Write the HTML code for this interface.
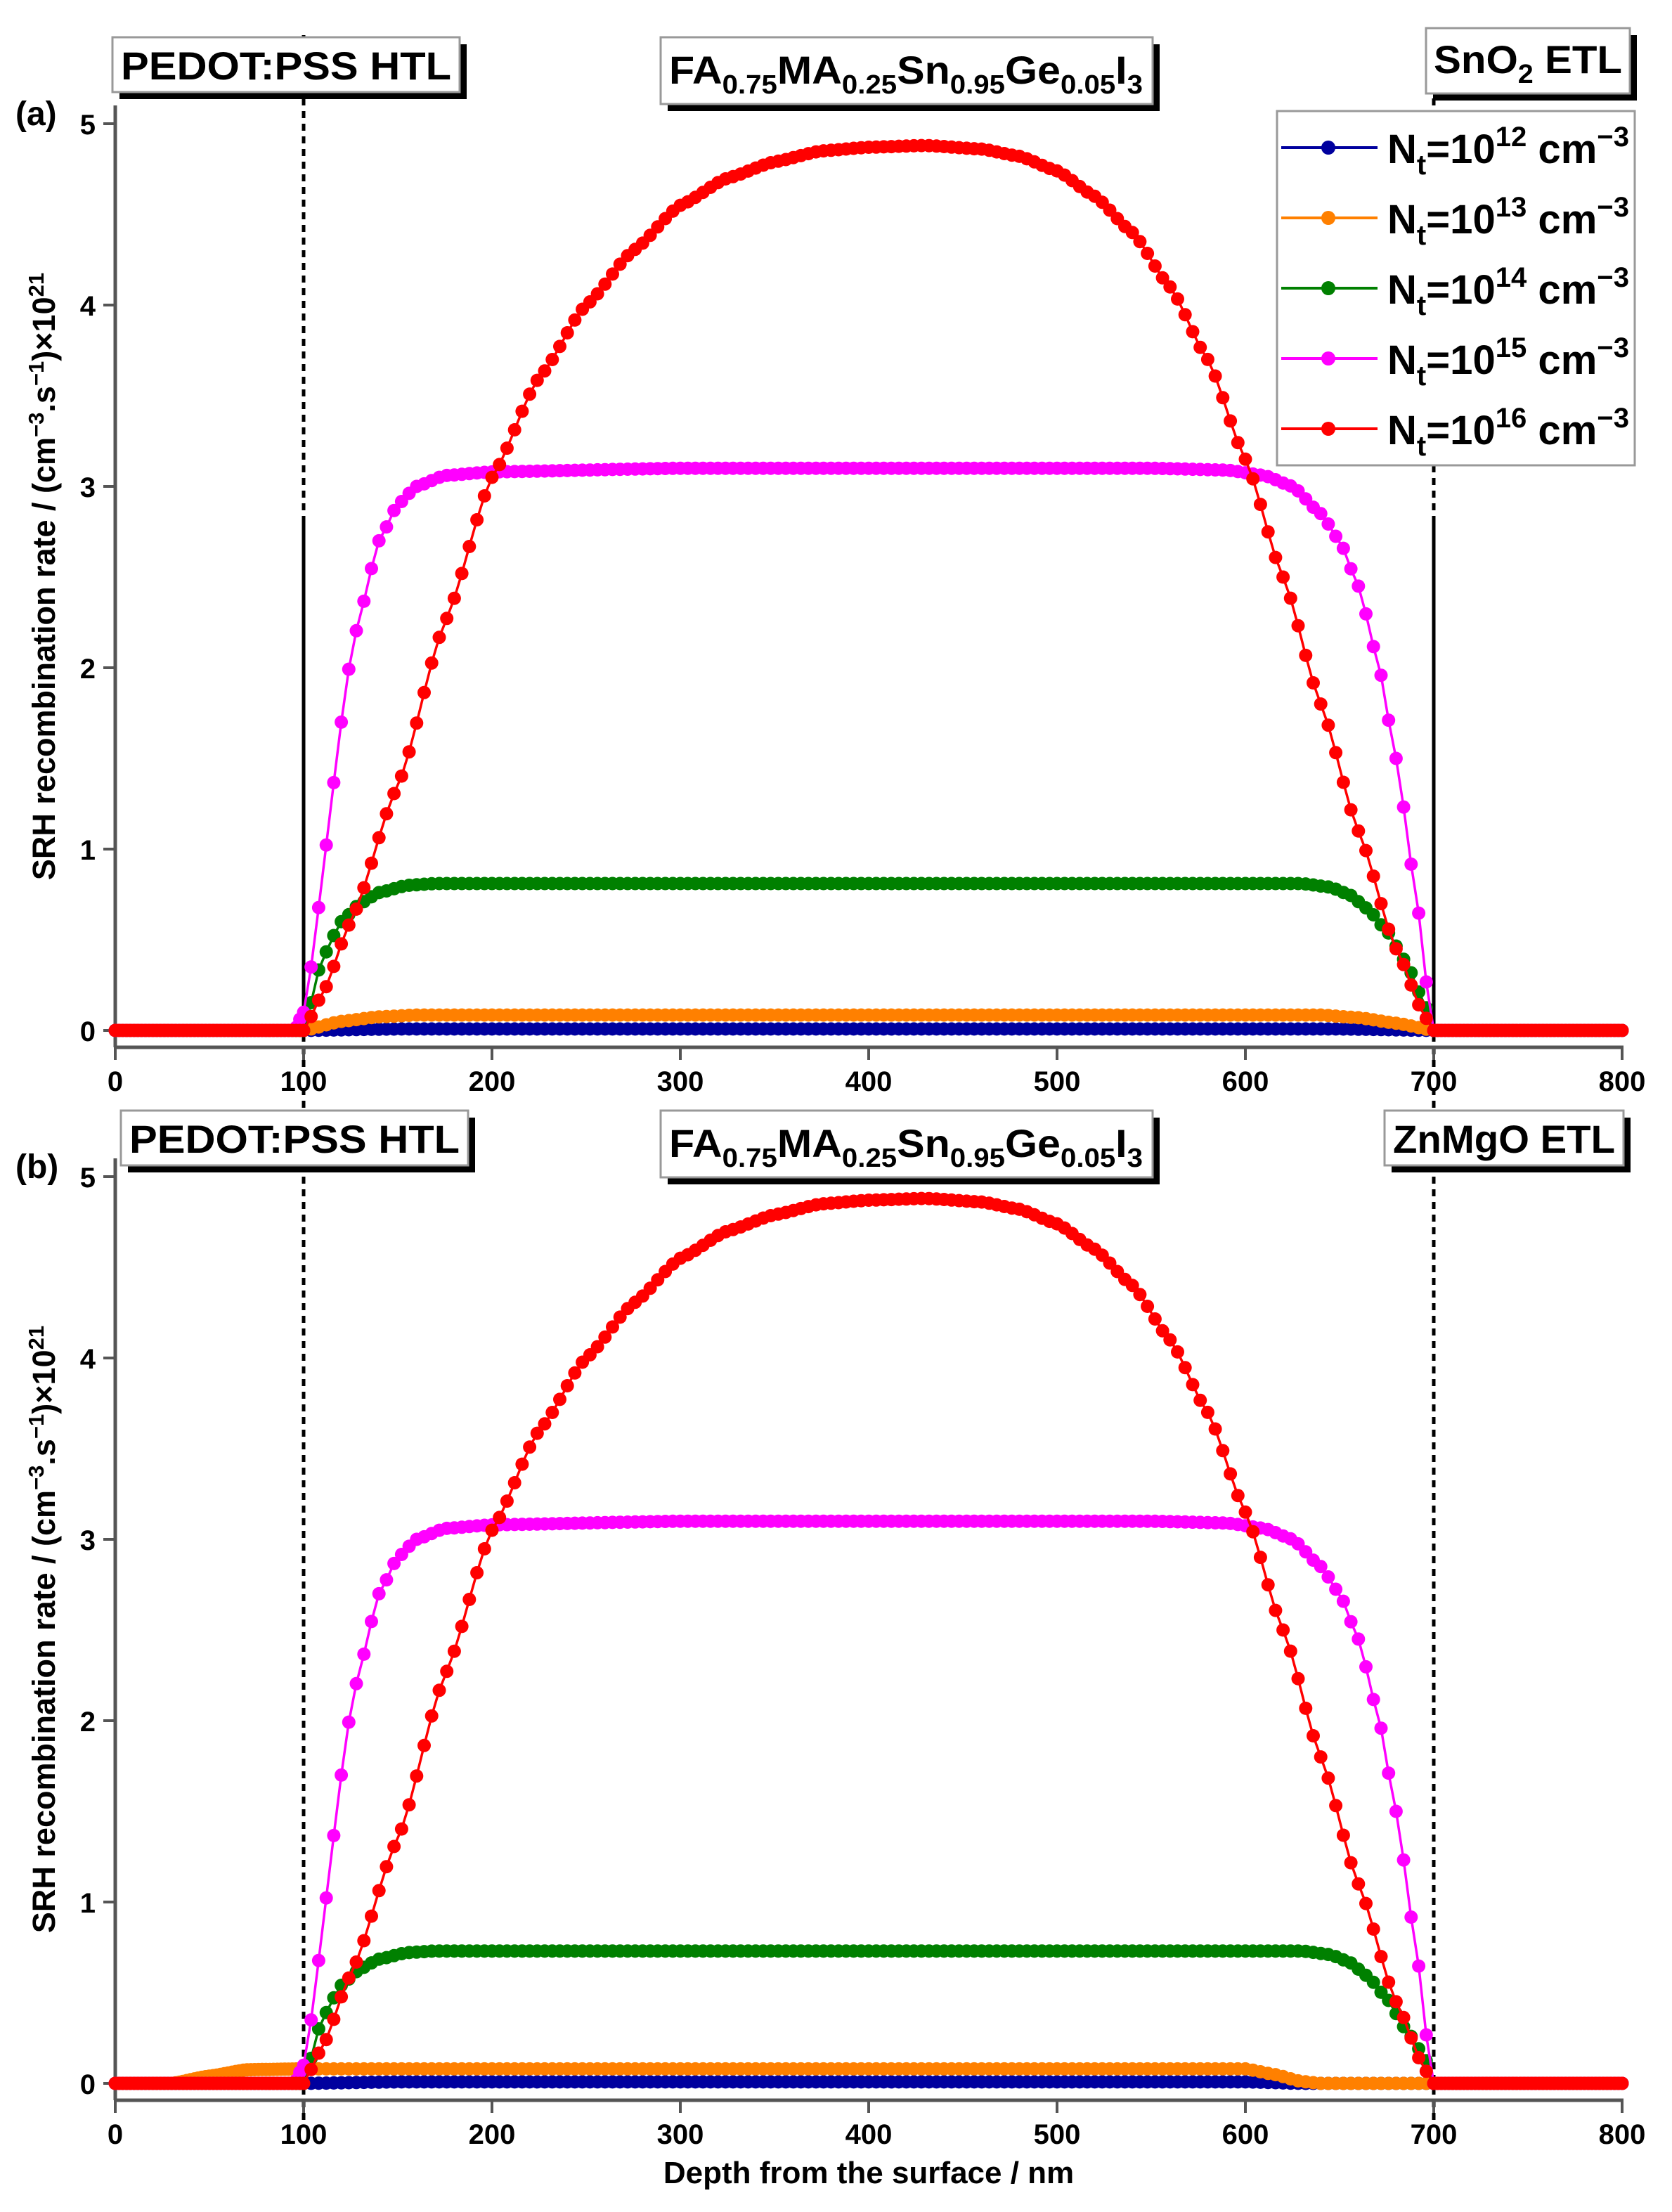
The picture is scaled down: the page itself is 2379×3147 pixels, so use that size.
<!DOCTYPE html>
<html><head><meta charset="utf-8"><style>
html,body{margin:0;padding:0;background:#fff;}
svg{display:block;font-family:"Liberation Sans",Arial,sans-serif;font-weight:bold;}
</style></head><body>
<svg id="s" width="2379" height="3147" viewBox="0 0 2379 3147" xmlns="http://www.w3.org/2000/svg">
</svg>
<script>
const S=document.getElementById('s');
let h='';
const X0=164, SX=2.68;
function X(v){return X0+v*SX;}
function interp(keys,x){
  for(let i=0;i<keys.length-1;i++){
    const a=keys[i],b=keys[i+1];
    if(x>=a[0]&&x<=b[0]){
      const t=(x-a[0])/(b[0]-a[0]||1);
      const s=t*t*(3-2*t)*0.35+t*0.65;
      return a[1]+(b[1]-a[1])*s;
    }
  }
  return 0;
}
const red=[[0,0],[100,0],[110,0.2],[125,0.6],[150,1.35],[175,2.25],[200,3.05],[225,3.6],[250,4.0],[275,4.3],[300,4.55],[325,4.7],[350,4.79],[375,4.85],[400,4.87],[430,4.88],[460,4.86],[480,4.82],[500,4.74],[520,4.6],[540,4.4],[560,4.1],[580,3.7],[600,3.15],[620,2.5],[640,1.8],[660,1.1],[680,0.45],[695,0.08],[700,0],[800,0]];
const mag=[[0,0],[95,0],[100,0.1],[105,0.4],[110,0.85],[115,1.3],[120,1.7],[125,2.05],[130,2.3],[140,2.7],[150,2.9],[160,3.0],[175,3.06],[200,3.08],[300,3.1],[550,3.1],[590,3.09],[610,3.06],[625,3.0],[640,2.85],[650,2.7],[660,2.45],[670,2.05],[680,1.5],[690,0.8],[697,0.2],[700,0],[800,0]];
function green(p){return [[0,0],[100,0],[110,0.4*p/0.81],[120,0.6*p/0.81],[130,0.7*p/0.81],[140,0.76*p/0.81],[155,0.8*p/0.81],[170,p],[630,p],[645,p-0.02],[655,p-0.06],[665,p-0.14],[675,p-0.26],[685,p-0.43],[695,0.15],[700,0],[800,0]];}
const orA=[[0,0],[100,0],[120,0.05],[140,0.075],[160,0.085],[640,0.085],[660,0.07],[680,0.04],[700,0],[800,0]];
const orB=[[0,0],[30,0],[50,0.04],[70,0.075],[100,0.08],[600,0.08],[615,0.05],[630,0.01],[640,0],[800,0]];
const blA=[[0,0],[100,0],[150,0.008],[650,0.008],[700,0],[800,0]];
const blB=[[0,0],[100,0],[150,0.008],[600,0.008],[630,0],[800,0]];
function series(keys,col,Y0,from,to){
  let pts=[];
  for(let x=from;x<=to+0.001;x+=(x<100||x>=700)?2:4){pts.push([X(x),Y0-interp(keys,x)*258]);}
  let d='M'+pts.map(p=>p[0].toFixed(1)+' '+p[1].toFixed(1)).join('L');
  h+=`<path d="${d}" fill="none" stroke="${col}" stroke-width="3.5"/>`;
  h+=pts.map(p=>`<circle cx="${p[0].toFixed(1)}" cy="${p[1].toFixed(1)}" r="9.5" fill="${col}"/>`).join('');
}
function box(x1,y1,x2,y2,inner){
  h+=`<rect x="${x1+10}" y="${y1+10}" width="${x2-x1}" height="${y2-y1}" fill="#000"/>`;
  h+=`<rect x="${x1}" y="${y1}" width="${x2-x1}" height="${y2-y1}" fill="#fff" stroke="#999" stroke-width="3"/>`;
  h+=inner;
}
function panel(Y0,b){
  const top=Y0-1316;
  h+=`<line x1="${X(100)}" y1="${top-100}" x2="${X(100)}" y2="${Y0+60}" stroke="#000" stroke-width="5" stroke-dasharray="10,8"/>`;
  h+=`<line x1="${X(700)}" y1="${top-100}" x2="${X(700)}" y2="${Y0+60}" stroke="#000" stroke-width="5" stroke-dasharray="10,8"/>`;
  if(!b){
    h+=`<line x1="${X(100)}" y1="${Y0+5}" x2="${X(100)}" y2="${Y0-2.82*258}" stroke="#000" stroke-width="5"/>`;
    h+=`<line x1="${X(700)}" y1="${Y0+5}" x2="${X(700)}" y2="${Y0-2.82*258}" stroke="#000" stroke-width="5"/>`;
  }
  h+=`<line x1="164" y1="${top}" x2="164" y2="${Y0+24}" stroke="#555" stroke-width="5"/>`;
  h+=`<line x1="162" y1="${Y0+24}" x2="2310" y2="${Y0+24}" stroke="#555" stroke-width="5"/>`;
  for(let i=0;i<=5;i++){const y=Y0-i*258;
    h+=`<line x1="147" y1="${y}" x2="164" y2="${y}" stroke="#555" stroke-width="4"/>`;
    h+=`<text x="136" y="${y+15}" font-size="40" text-anchor="end">${i}</text>`;}
  for(let i=0;i<=8;i++){const x=X(i*100);
    h+=`<line x1="${x}" y1="${Y0+24}" x2="${x}" y2="${Y0+42}" stroke="#555" stroke-width="4"/>`;
    h+=`<text x="${x}" y="${Y0+86}" font-size="40" text-anchor="middle">${i*100}</text>`;}
  series(b?blB:blA,'#00009e',Y0,0,800);
  series(b?orB:orA,'#ff8000',Y0,0,800);
  series(green(b?0.73:0.81),'#008000',Y0,0,800);
  series(mag,'#ff00ff',Y0,0,800);
  series(red,'#ff0000',Y0,0,800);
  const cy=Y0-646;
  h+=`<text transform="translate(78 ${cy}) rotate(-90)" font-size="45" text-anchor="middle">SRH recombination rate / (cm<tspan font-size="31" dy="-16">−3</tspan><tspan dy="16">.s</tspan><tspan font-size="31" dy="-16">−1</tspan><tspan dy="16">)×10</tspan><tspan font-size="31" dy="-16">21</tspan></text>`;
  h+=`<text x="22" y="${top+28}" font-size="48">${b?'(b)':'(a)'}</text>`;
  const by=b?1580:53;
  const bx=b?172:160;
  box(bx,by,bx+494,by+78,`<text x="${bx+12}" y="${by+60}" font-size="56" textLength="470" lengthAdjust="spacingAndGlyphs">PEDOT:PSS HTL</text>`);
  box(940,by,1640,by+95,`<text x="952" y="${by+66}" font-size="56" textLength="674" lengthAdjust="spacingAndGlyphs">FA<tspan font-size="38" dy="14">0.75</tspan><tspan dy="-14">MA</tspan><tspan font-size="38" dy="14">0.25</tspan><tspan dy="-14">Sn</tspan><tspan font-size="38" dy="14">0.95</tspan><tspan dy="-14">Ge</tspan><tspan font-size="38" dy="14">0.05</tspan><tspan dy="-14">I</tspan><tspan font-size="38" dy="14">3</tspan></text>`);
  if(!b){
    box(2029,40,2319,133,`<text x="2040" y="104" font-size="56" textLength="268" lengthAdjust="spacingAndGlyphs">SnO<tspan font-size="38" dy="14">2</tspan><tspan dy="-14"> ETL</tspan></text>`);
  } else {
    box(1970,1580,2310,1658,`<text x="1982" y="1640" font-size="56" textLength="316" lengthAdjust="spacingAndGlyphs">ZnMgO ETL</text>`);
  }
}
panel(1466,false);
panel(2964,true);
h+=`<rect x="1817" y="158" width="509" height="504" fill="#fff" stroke="#999" stroke-width="3"/>`;
const cols=['#00009e','#ff8000','#008000','#ff00ff','#ff0000'];
for(let i=0;i<5;i++){const y=210+i*100;
  h+=`<line x1="1823" y1="${y}" x2="1960" y2="${y}" stroke="${cols[i]}" stroke-width="4"/>`;
  h+=`<circle cx="1890" cy="${y}" r="10" fill="${cols[i]}"/>`;
  h+=`<text x="1974" y="${y+22}" font-size="58" textLength="344" lengthAdjust="spacingAndGlyphs">N<tspan font-size="40" dy="16">t</tspan><tspan dy="-16">=10</tspan><tspan font-size="40" dy="-24">1${i+2}</tspan><tspan dy="24"> cm</tspan><tspan font-size="40" dy="-24">−3</tspan></text>`;}
h+=`<text x="1236" y="3106" font-size="44" text-anchor="middle">Depth from the surface / nm</text>`;
S.innerHTML=h;
</script>
</body></html>
